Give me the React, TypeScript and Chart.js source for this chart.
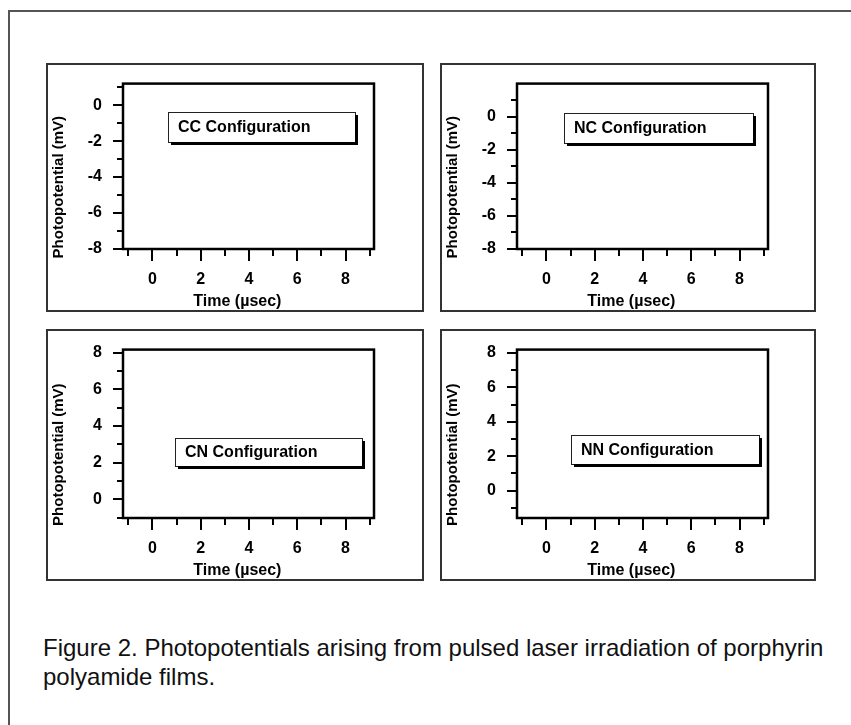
import React, { useEffect, useRef } from "react";
import { Chart, registerables } from "chart.js";

Chart.register(...registerables);

// ---- text ----
const xTitle = "Time (µsec)";
const yTitle = "Photopotential (mV)";
const captionLines = [
  "Figure 2. Photopotentials arising from pulsed laser irradiation of porphyrin",
  "polyamide films.",
];
const configNames = ["CC Configuration", "NC Configuration", "CN Configuration", "NN Configuration"];

// ---- axes ----
const xTickLabels = [0, 2, 4, 6, 8];
const xRange = [-1.22, 9.18];
const negYTickLabels = [0, -2, -4, -6, -8];
const posYTickLabels = [8, 6, 4, 2, 0];
const ccYRange = [-8, 1.2];
const ncYRange = [-8, 1.99];
const cnYRange = [-1.02, 8.16];
const nnYRange = [-1.6, 8.2];

// ---- series (the panels show no recorded traces) ----
const ccSeries: { x: number; y: number }[] = [];
const ncSeries: { x: number; y: number }[] = [];
const cnSeries: { x: number; y: number }[] = [];
const nnSeries: { x: number; y: number }[] = [];

// ---- label boxes, in data units: [xLeft, xRight, yTop, yBottom] ----
const ccBox = [0.63, 8.41, -0.39, -2.04];
const ncBox = [0.72, 8.54, 0.2, -1.61];
const cnBox = [0.92, 8.7, 3.35, 1.8];
const nnBox = [1.01, 8.81, 3.24, 1.55];

const FONT = '"Liberation Sans", Arial, Helvetica, sans-serif';

const decorPlugin = {
  id: "decor",
  afterDraw(chart: any, _args: any, opts: any) {
    const { ctx, chartArea: a } = chart;
    const x = chart.scales.x;
    const y = chart.scales.y;
    ctx.save();
    // panel frame
    ctx.strokeStyle = "#333";
    ctx.lineWidth = 2;
    ctx.strokeRect(1, 1, chart.width - 2, chart.height - 2);
    // plot frame
    ctx.strokeStyle = "#000";
    ctx.lineWidth = 2.5;
    ctx.strokeRect(a.left, a.top, a.right - a.left, a.bottom - a.top);
    // ticks
    ctx.lineWidth = 2;
    ctx.beginPath();
    for (const t of y.ticks) {
      const py = Math.round(y.getPixelForValue(t.value));
      const len = t.label !== "" ? 10 : 6;
      ctx.moveTo(a.left - len, py);
      ctx.lineTo(a.left, py);
    }
    for (const t of x.ticks) {
      const px = Math.round(x.getPixelForValue(t.value));
      const len = t.label !== "" ? 12 : 7;
      ctx.moveTo(px, a.bottom);
      ctx.lineTo(px, a.bottom + len);
    }
    ctx.stroke();
    // label box
    const b = opts.box;
    if (b) {
      const l = Math.round(x.getPixelForValue(b[0]));
      const r = Math.round(x.getPixelForValue(b[1]));
      const t = Math.round(y.getPixelForValue(b[2]));
      const bt = Math.round(y.getPixelForValue(b[3]));
      ctx.fillStyle = "#fff";
      ctx.fillRect(l, t, r - l, bt - t);
      ctx.strokeStyle = "#222";
      ctx.lineWidth = 1;
      ctx.strokeRect(l + 0.5, t + 0.5, r - l, bt - t);
      ctx.fillStyle = "#000";
      ctx.fillRect(r, t + 3, 3, bt - t);
      ctx.fillRect(l + 3, bt, r - l, 3);
      ctx.font = `bold 16px ${FONT}`;
      ctx.textBaseline = "middle";
      ctx.textAlign = "left";
      ctx.fillText(opts.name, l + 10, (t + bt) / 2 + 1);
    }
    ctx.restore();
  },
};

type PanelProps = {
  left: number;
  top: number;
  width: number;
  height: number;
  padTop: number;
  padRight: number;
  yRange: number[];
  yLabels: number[];
  series: { x: number; y: number }[];
  name: string;
  box: number[];
};

function Panel(p: PanelProps) {
  const ref = useRef<HTMLCanvasElement>(null);
  useEffect(() => {
    const tickFont = { family: FONT, size: 16, weight: "bold" as const };
    const chart = new Chart(ref.current as HTMLCanvasElement, {
      type: "scatter",
      data: {
        datasets: [
          { data: p.series, borderColor: "#000", backgroundColor: "#000", pointRadius: 2, showLine: true },
        ],
      },
      options: {
        responsive: false,
        animation: false,
        devicePixelRatio: 1,
        layout: { padding: { top: p.padTop, right: p.padRight, left: 0, bottom: 0 } },
        plugins: {
          legend: { display: false },
          tooltip: { enabled: false },
          decor: { box: p.box, name: p.name },
        } as any,
        scales: {
          x: {
            type: "linear",
            min: xRange[0],
            max: xRange[1],
            afterFit: (s: any) => {
              s.height = 63;
            },
            grid: { display: true, drawOnChartArea: false, drawTicks: true, tickLength: 12, tickColor: "rgba(0,0,0,0)" },
            border: { display: false },
            ticks: {
              stepSize: 1,
              includeBounds: false,
              autoSkip: false,
              maxRotation: 0,
              padding: 9,
              color: "#000",
              font: tickFont,
              callback: (v: any) => (xTickLabels.includes(Number(v)) ? String(v) : ""),
            },
            title: {
              display: true,
              text: xTitle + "     ",
              color: "#000",
              font: { family: FONT, size: 16, weight: "bold" as const },
              padding: { top: 0, bottom: 1 },
            },
          },
          y: {
            type: "linear",
            min: p.yRange[0],
            max: p.yRange[1],
            afterFit: (s: any) => {
              s.width = 77;
            },
            grid: { display: true, drawOnChartArea: false, drawTicks: true, tickLength: 10, tickColor: "rgba(0,0,0,0)" },
            border: { display: false },
            ticks: {
              stepSize: 1,
              includeBounds: false,
              autoSkip: false,
              padding: 11,
              color: "#000",
              font: tickFont,
              callback: (v: any) => (p.yLabels.includes(Number(v)) ? String(v) : ""),
            },
            title: {
              display: true,
              text: yTitle + "          ",
              color: "#000",
              font: { family: FONT, size: 15, weight: "bold" as const },
              padding: { top: 4, bottom: 0 },
            },
          },
        },
      },
      plugins: [decorPlugin as any],
    });
    return () => chart.destroy();
  }, []);
  return (
    <canvas
      ref={ref}
      width={p.width}
      height={p.height}
      style={{ position: "absolute", left: p.left, top: p.top, width: p.width, height: p.height }}
    />
  );
}

export default function App() {
  return (
    <div
      style={{
        position: "fixed",
        left: 0,
        top: 0,
        width: 851,
        height: 725,
        overflow: "hidden",
        background: "#fff",
      }}
    >
      <div
        style={{
          position: "absolute",
          left: 8,
          top: 10,
          width: 900,
          height: 800,
          border: "2px solid #555",
        }}
      />
      <Panel left={46} top={63} width={378} height={249} padTop={18} padRight={50} yRange={ccYRange} yLabels={negYTickLabels} series={ccSeries} name={configNames[0]} box={ccBox} />
      <Panel left={440} top={63} width={376} height={249} padTop={18} padRight={48} yRange={ncYRange} yLabels={negYTickLabels} series={ncSeries} name={configNames[1]} box={ncBox} />
      <Panel left={46} top={329} width={378} height={252} padTop={20} padRight={50} yRange={cnYRange} yLabels={posYTickLabels} series={cnSeries} name={configNames[2]} box={cnBox} />
      <Panel left={440} top={329} width={376} height={252} padTop={20} padRight={48} yRange={nnYRange} yLabels={posYTickLabels} series={nnSeries} name={configNames[3]} box={nnBox} />
      <div
        style={{
          position: "absolute",
          left: 43,
          top: 633,
          fontFamily: FONT,
          fontSize: 24,
          lineHeight: "29px",
          color: "#111",
          whiteSpace: "pre",
        }}
      >
        {captionLines[0]}
        <br />
        {captionLines[1]}
      </div>
    </div>
  );
}
